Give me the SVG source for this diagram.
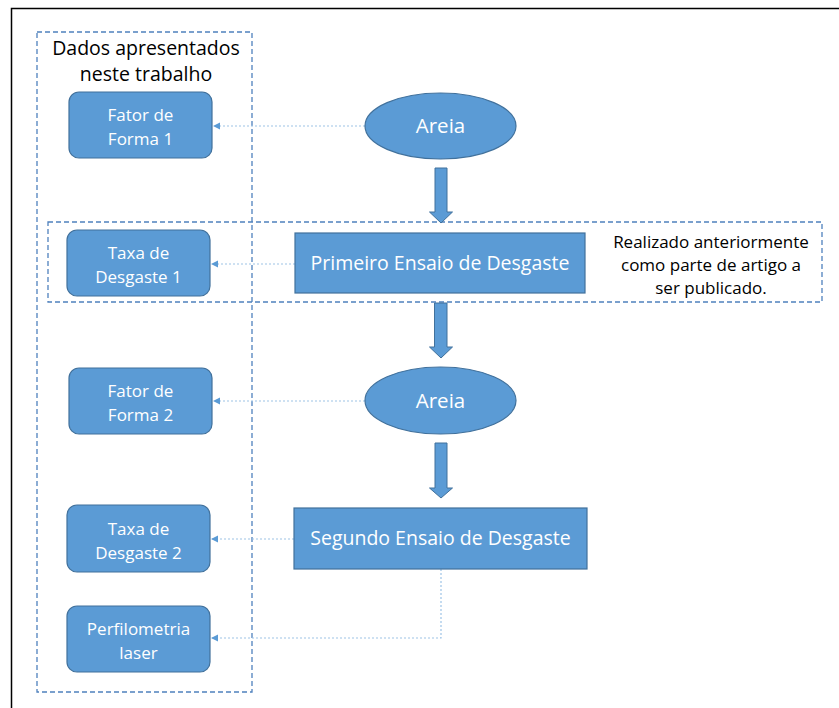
<svg xmlns="http://www.w3.org/2000/svg" width="839" height="708" viewBox="0 0 839 708">
<style>
.node{fill:#5B9BD5;stroke:#41719C;stroke-width:1.2}
.lbl{font-family:"Open Sans","Noto Sans",sans-serif;fill:#FFFFFF;text-anchor:middle}
.blk{font-family:"Open Sans","Noto Sans",sans-serif;fill:#000000;text-anchor:middle}
.grp{fill:none;stroke:#4F81BD;stroke-width:1.3;stroke-dasharray:5 3}
.dot{fill:none;stroke:#9DC3E6;stroke-width:1.2;stroke-dasharray:2 2}
.barrow{fill:#5B9BD5;stroke:#41719C;stroke-width:1}
</style>
<defs>
<marker id="ah" markerWidth="8" markerHeight="8" refX="7" refY="4" orient="auto" markerUnits="userSpaceOnUse">
<path d="M0,0.5 L7,4 L0,7.5 Z" fill="#5B9BD5"/>
</marker>
</defs>
<rect width="839" height="708" fill="#FFFFFF"/>
<path d="M11.5,708 L11.5,8.5 L839,8.5" fill="none" stroke="#000000" stroke-width="1.5"/>

<g id="group-dados">
<rect class="grp" x="37" y="32" width="215" height="660"/>
<text class="blk" x="146" y="55" font-size="19.5">Dados apresentados</text>
<text class="blk" x="146" y="81" font-size="19.5">neste trabalho</text>
</g>
<g id="group-realizado">
<rect class="grp" x="48" y="222" width="774" height="80"/>
<text class="blk" x="711" y="248" font-size="17">Realizado anteriormente</text>
<text class="blk" x="711" y="271" font-size="17">como parte de artigo a</text>
<text class="blk" x="711" y="294" font-size="17">ser publicado.</text>
</g>

<g id="connectors">
<line class="dot" x1="365" y1="126" x2="213" y2="126" marker-end="url(#ah)"/>
<line class="dot" x1="295" y1="264" x2="211" y2="264" marker-end="url(#ah)"/>
<line class="dot" x1="365" y1="401" x2="213" y2="401" marker-end="url(#ah)"/>
<line class="dot" x1="294" y1="539" x2="211" y2="539" marker-end="url(#ah)"/>
<polyline class="dot" points="441,569 441,638 211,638" marker-end="url(#ah)"/>
<path class="barrow" d="M435,168 L447,168 L447,212 L452.5,212 L441,223 L429.5,212 L435,212 Z"/>
<path class="barrow" d="M434.5,303 L447,303 L447,347 L452.5,347 L441,358 L429.5,347 L434.5,347 Z"/>
<path class="barrow" d="M435,443 L447,443 L447,488 L452.5,488 L441,498 L429.5,488 L435,488 Z"/>
</g>

<g id="fator1">
<rect class="node" x="69" y="92" width="143" height="66" rx="10"/>
<text class="lbl" x="140.5" y="121" font-size="17">Fator de</text>
<text class="lbl" x="140.5" y="145" font-size="17">Forma 1</text>
</g>
<g id="taxa1">
<rect class="node" x="67" y="230" width="143" height="66" rx="10"/>
<text class="lbl" x="138.5" y="259" font-size="17">Taxa de</text>
<text class="lbl" x="138.5" y="283" font-size="17">Desgaste 1</text>
</g>
<g id="fator2">
<rect class="node" x="69" y="368" width="143" height="66" rx="10"/>
<text class="lbl" x="140.5" y="397" font-size="17">Fator de</text>
<text class="lbl" x="140.5" y="421" font-size="17">Forma 2</text>
</g>
<g id="taxa2">
<rect class="node" x="67" y="505" width="143" height="67" rx="10"/>
<text class="lbl" x="138.5" y="535" font-size="17">Taxa de</text>
<text class="lbl" x="138.5" y="559" font-size="17">Desgaste 2</text>
</g>
<g id="perfilometria">
<rect class="node" x="67" y="606" width="143" height="66" rx="10"/>
<text class="lbl" x="138.5" y="635" font-size="17">Perfilometria</text>
<text class="lbl" x="138.5" y="659" font-size="17">laser</text>
</g>

<g id="areia1">
<ellipse class="node" cx="440.5" cy="126" rx="75.5" ry="33"/>
<text class="lbl" x="440.5" y="133" font-size="20.5">Areia</text>
</g>
<g id="primeiro">
<rect class="node" x="295" y="233" width="290" height="60"/>
<text class="lbl" x="440" y="270" font-size="19.5">Primeiro Ensaio de Desgaste</text>
</g>
<g id="areia2">
<ellipse class="node" cx="440.5" cy="400.5" rx="75.5" ry="33.5"/>
<text class="lbl" x="440.5" y="408" font-size="20.5">Areia</text>
</g>
<g id="segundo">
<rect class="node" x="294" y="508" width="293" height="61"/>
<text class="lbl" x="440.5" y="545" font-size="19.5">Segundo Ensaio de Desgaste</text>
</g>
</svg>
